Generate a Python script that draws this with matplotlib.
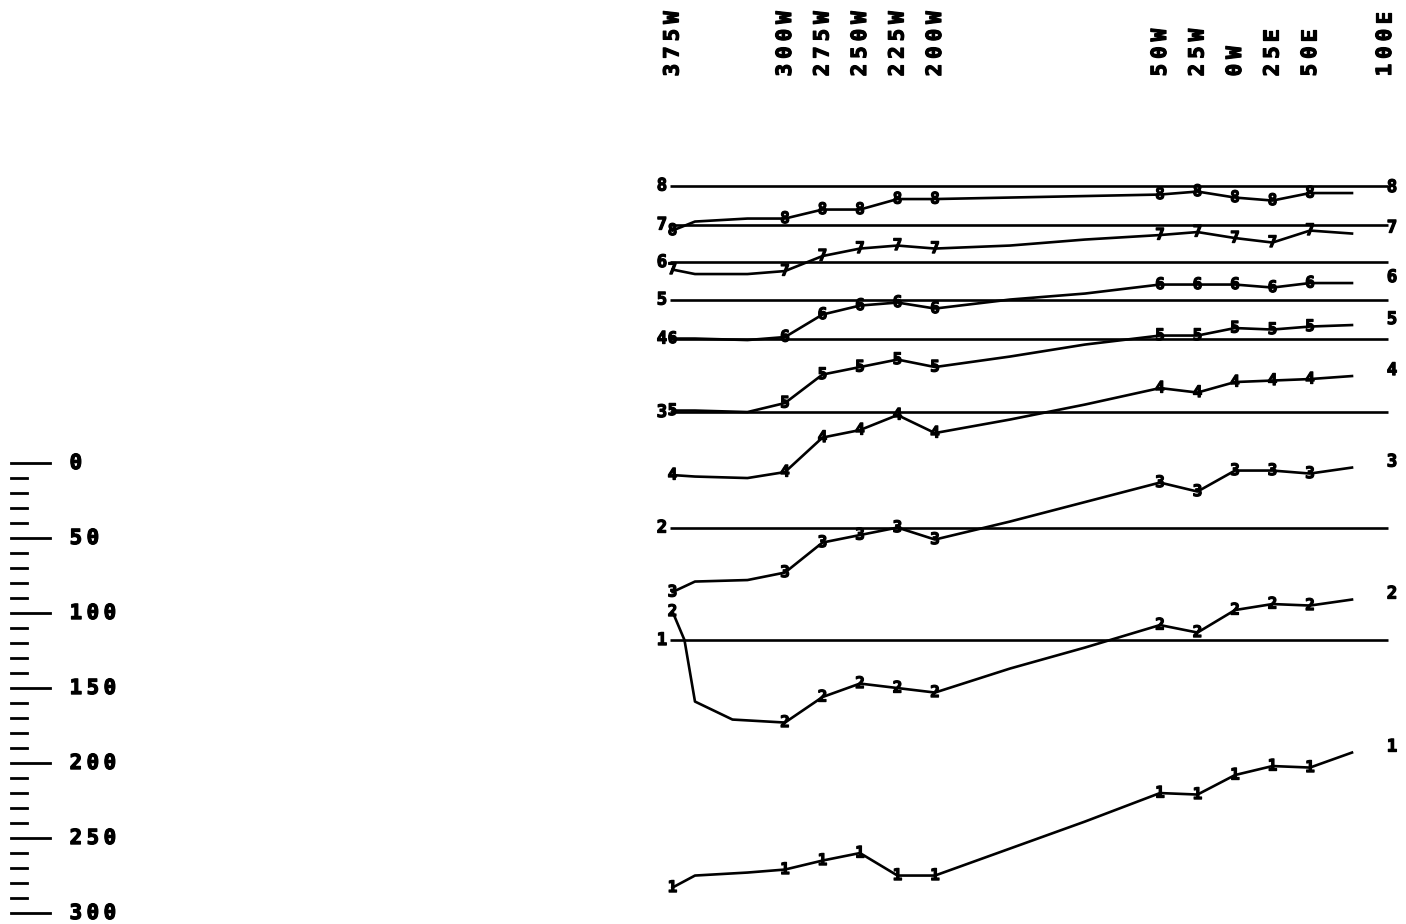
"""Cross-section of eight horizons along the profile, with depth scale bar."""

import matplotlib.pyplot as plt
import matplotlib.patheffects as pe

FONT = "DejaVu Sans Mono"
PX_TO_PT = 0.72  # figure is drawn at 100 dpi
HEAVY = [pe.withStroke(linewidth=0.9, foreground="k")]

# station labels along the top
STATION_X = [-375, -300, -275, -250, -225, -200, -50, -25, 0, 25, 50, 100]
STATION_LABELS = ["375W", "300W", "275W", "250W", "225W", "200W",
                  "50W", "25W", "0W", "25E", "50E", "100E"]

# stations where the curves carry a digit marker
MARKED = [-375, -300, -275, -250, -225, -200, -50, -25, 0, 25, 50]

# distance along the profile (W negative)
DIST = [-375, -360, -325, -300, -275, -250, -225, -200, -150, -100,
        -50, -25, 0, 25, 50, 78]
DIST_2 = [-375, -367, -360, -335, -300, -275, -250, -225, -200, -150, -100,
          -50, -25, 0, 25, 50, 78]

# depth of each curve (same units as the scale bar, down positive)
DEPTH_8 = [-155, -161, -163, -163, -169, -169, -176, -176, -177, -178,
           -179, -181, -177, -175, -180, -180]
DEPTH_7 = [-129, -126, -126, -128, -138, -143, -145, -143, -145, -149,
           -152, -154, -150, -147, -155, -153]
DEPTH_6 = [-83, -83, -82, -84, -99, -105, -107, -103, -109, -113,
           -119, -119, -119, -117, -120, -120]
DEPTH_5 = [-35, -35, -34, -40, -59, -64, -69, -64, -71, -79,
           -85, -85, -90, -89, -91, -92]
DEPTH_4 = [8, 9, 10, 6, -17, -22, -32, -20, -29, -39,
           -50, -47, -54, -55, -56, -58]
DEPTH_3 = [86, 79, 78, 73, 53, 48, 43, 51, 39, 26,
           13, 19, 5, 5, 7, 3]
DEPTH_2 = [99, 118, 159, 171, 173, 156, 147, 150, 153, 137, 123,
           108, 113, 98, 94, 95, 91]
DEPTH_1 = [283, 275, 273, 271, 265, 260, 275, 275, 257, 239,
           220, 221, 208, 202, 203, 193]

# horizontal reference levels 1..8
LINE_DEPTHS = [118, 43, -34, -83, -109, -134, -159, -185]
LINE_NAMES = ["1", "2", "3", "4", "5", "6", "7", "8"]

SCALE_MAJOR = [0, 50, 100, 150, 200, 250, 300]


def spaced_text(ax, x, y, s, pitch_px, size, rotation=0):
    # plotter-style text: fixed, wide character pitch
    for i, ch in enumerate(s):
        step = i * pitch_px * PX_TO_PT
        off = (0, step) if rotation == 90 else (step, 0)
        ax.annotate(ch, (x, y), xytext=off, textcoords="offset points",
                    ha="center", va="center", rotation=rotation,
                    fontsize=size, fontweight="bold", family=FONT,
                    path_effects=HEAVY)


def label(ax, x, y, s, size, dy_px=0):
    ax.annotate(s, (x, y), xytext=(0, dy_px * PX_TO_PT),
                textcoords="offset points", ha="center", va="center",
                fontsize=size, fontweight="bold", family=FONT,
                path_effects=HEAVY)


def main() -> None:
    fig = plt.figure(figsize=(14.06, 9.24), dpi=100)
    ax = fig.add_axes([0, 0, 1, 1])
    ax.set_xlim(-823.3, 114.0)
    ax.set_ylim(307.3, -308.7)
    ax.axis("off")

    # depth scale bar on the left
    for v in range(0, 301, 10):
        if v in SCALE_MAJOR:
            ax.plot([-816, -790], [v, v], color="k", lw=2.0)
            spaced_text(ax, -772.7, v, str(v), 17, 15)
        else:
            ax.plot([-816, -805.3], [v, v], color="k", lw=2.0)

    # station labels
    for x, lab in zip(STATION_X, STATION_LABELS):
        spaced_text(ax, x, -262, lab, 17.5, 15, rotation=90)

    # reference levels
    ax.hlines(LINE_DEPTHS, -376.7, 102, color="k", lw=1.9)
    for d, name in zip(LINE_DEPTHS, LINE_NAMES):
        label(ax, -382, d, name, 12.5)

    curves = [
        ("1", DIST, DEPTH_1), ("2", DIST_2, DEPTH_2), ("3", DIST, DEPTH_3),
        ("4", DIST, DEPTH_4), ("5", DIST, DEPTH_5), ("6", DIST, DEPTH_6),
        ("7", DIST, DEPTH_7), ("8", DIST, DEPTH_8),
    ]
    for name, xs, ys in curves:
        ax.plot(xs, ys, color="k", lw=1.9)
        for x, y in zip(xs, ys):
            if x in MARKED:
                label(ax, x, y, name, 11.5)
        label(ax, 104.7, ys[-1], name, 12.5, dy_px=6)

    fig.savefig("out.png", dpi=100, facecolor="white")
    plt.close(fig)


if __name__ == "__main__":
    main()
